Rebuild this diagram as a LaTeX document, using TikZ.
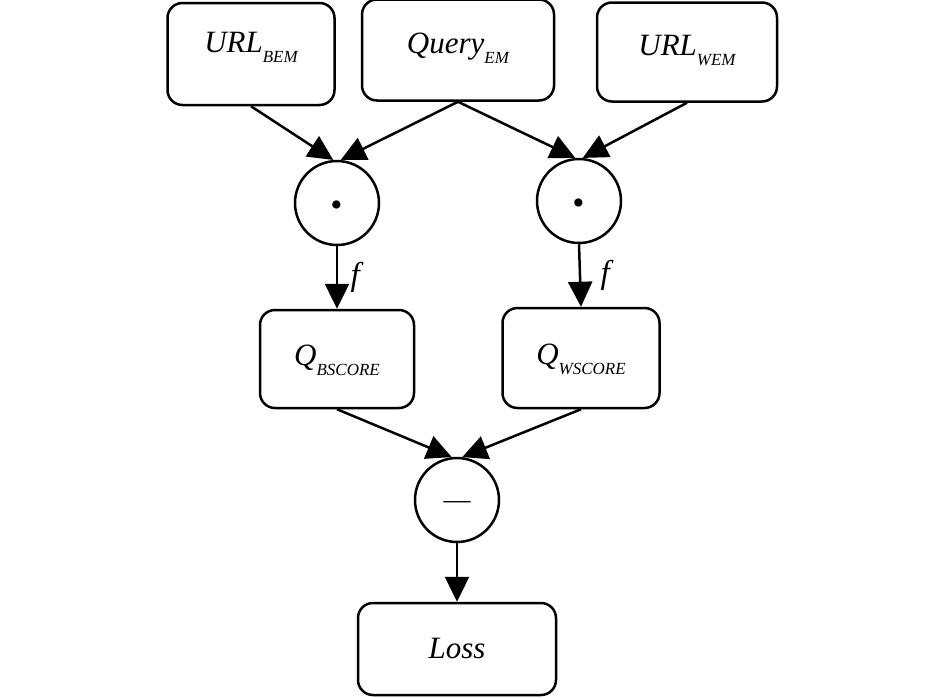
\documentclass[tikz,border=0pt]{standalone}
\usepackage{fontspec}
\setmainfont{Liberation Serif}
\usetikzlibrary{arrows.meta}
\newcommand{\lowsub}[1]{\raisebox{-10pt}{\fontsize{17}{17}\selectfont #1}}
\begin{document}
\begin{tikzpicture}[x=1pt, y=-1pt,
  box/.style={draw, line width=2.5pt, rounded corners=15pt, inner sep=0pt,
    text depth=15pt, font=\fontsize{31}{31}\selectfont\itshape},
  op/.style={draw, circle, line width=2.5pt, minimum size=84pt, inner sep=0pt,
    text height=0pt, text depth=0pt},
  arr/.style={line width=2.5pt, -{Triangle[length=25pt, width=24pt]}},
  flabel/.style={right, font=\fontsize{33}{33}\selectfont\itshape}]
  \useasboundingbox (0,0) rectangle (945,697);
  % inputs
  \node[box, text height=12pt, minimum width=167pt, minimum height=102pt] (urlb) at (251,54) {URL\lowsub{BEM}};
  \node[box, text height=21pt, minimum width=192pt, minimum height=101pt] (query) at (458,50) {Query\lowsub{EM}};
  \node[box, text height=21pt, minimum width=180pt, minimum height=99pt] (urlw) at (687,52) {URL\lowsub{WEM}};
  % products
  \node[op] (dotb) at (337,203) {\raisebox{-18pt}{\fontsize{50}{50}\selectfont\textbf{·}}};
  \node[op] (dotw) at (579,201) {\raisebox{-18pt}{\fontsize{50}{50}\selectfont\textbf{·}}};
  % scores
  \node[box, text height=27pt, minimum width=154pt, minimum height=98pt] (qb) at (337,359) {Q\lowsub{BSCORE}};
  \node[box, text height=27pt, minimum width=157pt, minimum height=100pt] (qw) at (581,358) {Q\lowsub{WSCORE}};
  % difference and loss
  \node[op] (minus) at (457,500) {\raisebox{-8pt}{\fontsize{27}{27}\selectfont —}};
  \node[box, text height=33pt, minimum width=198pt, minimum height=92pt] (loss) at (457,649) {Loss};
  \draw[arr] (urlb.south) -- (dotb.95);
  \draw[arr] (query.south) -- (dotb.85);
  \draw[arr] (query.south) -- (dotw.95);
  \draw[arr] (urlw.south) -- (dotw.85);
  \draw[arr] (dotb.south) -- node[flabel, xshift=9pt] {f} (qb.north);
  \draw[arr] (dotw.south) -- node[flabel, xshift=16pt] {f} (qw.north);
  \draw[arr] (qb.south) -- (minus.97);
  \draw[arr] (qw.south) -- (minus.83);
  \draw[arr] (minus.south) -- (loss.north);
\end{tikzpicture}
\end{document}
